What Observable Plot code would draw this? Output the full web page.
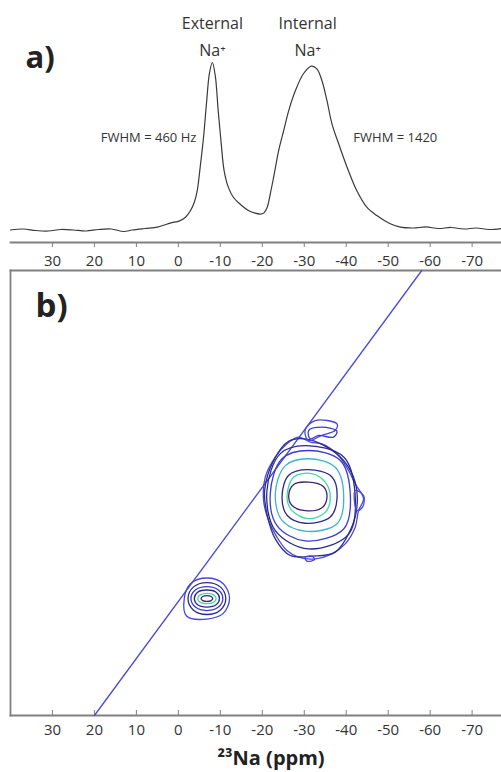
<!DOCTYPE html>
<html><head><meta charset="utf-8">
<script src="https://cdn.jsdelivr.net/npm/d3@7"></script>
<script src="https://cdn.jsdelivr.net/npm/@observablehq/plot@0.6"></script>
<style>
body{margin:0;background:#fff;}
#chart svg{display:block;}
#chart svg.lower{margin-top:-4px;position:relative;}
</style></head><body><div id="chart"></div>
<script>
// ---------- data ----------
const xTicks = [30, 20, 10, 0, -10, -20, -30, -40, -50, -60, -70];
const xLabel = "²³Na (ppm)";

// 1D 23Na spectrum (chemical shift ppm, relative intensity)
const spectrumPpm = [40, 37, 34, 31, 28, 25, 22, 19, 16, 13, 11, 8, 5, 3, 1, 0, -1.7, -2.9, -3.8, -4.5, -5.2, -6.0, -6.7, -7.4, -8.1, -8.8, -9.5, -10.2, -10.9, -11.9, -13.1, -14.8, -16.7, -18.3, -19.5, -20.4, -21.2, -21.9, -22.7, -23.9, -25.1, -26.3, -27.9, -29.8, -31.7, -33.0, -34.2, -35.4, -36.6, -38.2, -40.2, -42.5, -44.9, -47.3, -50.5, -52.9, -56, -59, -62, -65, -68, -71, -74, -77];
const spectrumInt = [0.3, 0.9, 0, -0.3, 0.6, 0.3, -0.3, 0.6, 0.9, -0.6, 0.3, 1.2, 2, 3.6, 5, 5.4, 7.9, 11.9, 16.8, 23.8, 37.7, 55.5, 75.6, 93.5, 100, 92, 71, 52, 35.7, 25.8, 19.8, 15.5, 11.9, 10.3, 9.8, 10.5, 14, 21.8, 31.7, 47.6, 59.5, 71.4, 83.3, 93.3, 97.8, 96.2, 89.3, 77.4, 63.5, 51.6, 37.7, 23.8, 13.9, 8.9, 4.0, 2.0, 1.5, 2.1, 1.2, 1.8, 0.9, 1.5, 0.6, 1.2];

// peak annotations
const peakNames = ["External", "Internal"];
const peakIons = ["Na⁺", "Na⁺"];
const peakLabelPpm = [-8.1, -30.8];
const nameLevel = 123;
const ionLevel = 107;
const widthLabels = ["FWHM = 460 Hz", "FWHM = 1420"];
const widthLabelPpm = [7.1, -51.7];
const widthLevel = 55;

// 2D map: diagonal (F2 = F1)
const diagonal = [[20, 20], [-58, -58]];

// contour rings [F2 ppm, F1 ppm], internal Na+ peak (outer -> inner)
const bigRing8 = [[-20.71, -21.77], [-23.09, -25.28], [-25.87, -27.62], [-28.65, -28.79], [-31.43, -27.91], [-34.2, -27.62], [-37.78, -25.86], [-40.55, -22.94], [-42.14, -20.61], [-44.13, -17.98], [-42.94, -15.93], [-42.14, -13.01], [-39.76, -10.09], [-36.59, -8.33], [-32.62, -7.46], [-28.65, -7.75], [-25.87, -8.92], [-23.49, -11.26], [-21.5, -14.18], [-20.31, -17.68]];
const bigRing7 = [[-26.27, -28.08], [-30.24, -28.49], [-35.4, -27.03], [-39.36, -24.7], [-42.14, -20.9], [-42.54, -16.51], [-40.95, -12.42], [-37.38, -8.63], [-31.82, -7.93], [-26.66, -8.04], [-23.09, -10.97], [-21.11, -15.35], [-20.55, -19.44], [-22.7, -24.7]];
const bigRing6 = [[-21.1, -19.4], [-24.3, -25.9], [-30.2, -27.3], [-39.4, -25.3], [-42.1, -18.9], [-40.6, -11.8], [-31.0, -9.2], [-23.1, -12.4]];
const bigRing5 = [[-21.9, -18.9], [-24.7, -25.0], [-31.0, -26.45], [-38.6, -24.7], [-41.0, -18.3], [-39.4, -12.7], [-30.2, -10.6], [-23.5, -13.3]];
const bigRing4 = [[-23.1, -18.9], [-25.5, -23.8], [-31.0, -25.0], [-37.4, -23.5], [-39.4, -18.3], [-37.8, -13.6], [-30.2, -12.3], [-24.7, -14.2]];
const bigRing3 = [[-24.7, -18.3], [-26.3, -22.1], [-31.0, -23.1], [-36.6, -21.8], [-37.8, -18.0], [-36.2, -14.8], [-30.2, -13.7], [-25.9, -15.1]];
const bigRing2 = [[-25.9, -18.3], [-27.5, -21.8], [-31.8, -22.4], [-35.0, -20.9], [-36.2, -18.3], [-35.0, -15.6], [-31.0, -14.5], [-27.1, -15.9]];
const bigRing1 = [[-26.3, -18.6], [-27.5, -20.5], [-31.0, -20.9], [-34.6, -20.1], [-35.4, -18.15], [-34.2, -16.4], [-30.2, -15.9], [-27.1, -16.8]];
const noiseLump1 = [[-30.2, -30.0], [-32.6, -31.7], [-37.8, -31.1], [-37.4, -30.0], [-34.2, -29.1], [-31.0, -28.2]];
const noiseLump2 = [[-31.03, -29.95], [-34.2, -30.54], [-37.78, -29.84], [-36.98, -28.79], [-33.41, -29.08], [-31.43, -28.49]];
const noiseLump3 = [[-42.14, -19.44], [-44.13, -18.56], [-43.89, -16.51], [-42.54, -15.93]];
const noiseLump4 = [[-30.24, -7.75], [-31.82, -7.93], [-32.46, -7.34], [-30.63, -7.05]];

// contour rings, external Na+ peak (outer -> inner)
const smallRing6 = [[-1.4, -0.5], [-2.9, -3.1], [-6.8, -4.1], [-10.7, -3.1], [-12.2, -0.5], [-10.7, 2.1], [-6.8, 3.1], [-2.0, 2.6]];
const smallRing5 = [[-2.3, -0.5], [-3.55, -2.5], [-6.8, -3.3], [-10.05, -2.5], [-11.3, -0.5], [-10.05, 1.5], [-6.8, 2.3], [-3.55, 1.5]];
const smallRing4 = [[-3.0, -0.5], [-4.05, -2.0], [-6.8, -2.6], [-9.55, -2.0], [-10.6, -0.5], [-9.55, 1.0], [-6.8, 1.6], [-4.05, 1.0]];
const smallRing3 = [[-3.8, -0.5], [-4.6, -1.6], [-6.8, -2.0], [-9.0, -1.6], [-9.8, -0.5], [-9.0, 0.6], [-6.8, 1.0], [-4.6, 0.6]];
const smallRing2 = [[-4.6, -0.5], [-5.2, -1.15], [-6.8, -1.4], [-8.4, -1.15], [-9.0, -0.5], [-8.4, 0.15], [-6.8, 0.4], [-5.2, 0.15]];
const smallRing1 = [[-5.4, -0.5], [-5.8, -0.86], [-6.8, -1.0], [-7.8, -0.86], [-8.2, -0.5], [-7.8, -0.14], [-6.8, 0.0], [-5.8, -0.14]];

const rings = [bigRing8, bigRing7, bigRing6, bigRing5, bigRing4, bigRing3, bigRing2, bigRing1,
               noiseLump1, noiseLump2, noiseLump3, noiseLump4,
               smallRing6, smallRing5, smallRing4, smallRing3, smallRing2, smallRing1];
const ringColors = ["#4646de", "#2d2b94", "#2a2a88", "#3b3bd4", "#41b2cc", "#2b2b8c", "#3fd8a2", "#3d2478",
                    "#4646de", "#3b3bd4", "#4646de", "#4646de",
                    "#4646de", "#2b2b8c", "#3b3bd4", "#2b2b8c", "#3fd8a2", "#3d2478"];

// ---------- build ----------
const font = "'Open Sans', sans-serif";
const fmt = d => String(d);

const spectrum = spectrumPpm.map((p, i) => ({ppm: p, intensity: spectrumInt[i]}));
const peaks = peakNames.map((n, i) => ({name: n, ion: peakIons[i], ppm: peakLabelPpm[i]}));
const widths = widthLabels.map((t, i) => ({text: t, ppm: widthLabelPpm[i]}));
const ringTable = rings.flatMap((pts, i) => pts.map(([x, y]) => ({x, y, ring: i, color: ringColors[i]})));

const topPlot = Plot.plot({
  width: 501, height: 272,
  marginLeft: 10, marginRight: 0, marginTop: 0, marginBottom: 30,
  style: {fontFamily: font, background: "#fff"},
  x: {domain: [40, -77]},
  y: {domain: [0, 100], range: [230, 62], axis: null},
  marks: [
    Plot.frame({anchor: "bottom", stroke: "#808080", strokeWidth: 1.8}),
    Plot.axisX({ticks: xTicks, tickFormat: fmt, tickSize: 5, tickPadding: 8, fontSize: 15, stroke: "#808080", fill: "#333", label: null}),
    Plot.line(spectrum, {x: "ppm", y: "intensity", stroke: "#3a3a3a", strokeWidth: 1.2, curve: "catmull-rom"}),
    Plot.text(peaks, {x: "ppm", y: () => nameLevel, text: "name", fontSize: 16, fill: "#333"}),
    Plot.text(peaks, {x: "ppm", y: () => ionLevel, text: "ion", fontSize: 16, fill: "#333"}),
    Plot.text(widths, {x: "ppm", y: () => widthLevel, text: "text", fontSize: 13, fill: "#333"}),
    Plot.text(["a)"], {frameAnchor: "top-left", textAnchor: "start", lineAnchor: "middle", dx: 15, dy: 58, fontSize: 31, fontWeight: "bold", fill: "#222"})
  ]
});

const bottomPlot = Plot.plot({
  width: 501, height: 504,
  marginLeft: 10, marginRight: 0, marginTop: 2, marginBottom: 57,
  style: {fontFamily: font, background: "transparent"},
  x: {domain: [40, -77]},
  y: {domain: [20, -58], axis: null},
  color: {type: "identity"},
  marks: [
    Plot.frame({anchor: "left", stroke: "#808080", strokeWidth: 1.8}),
    Plot.frame({anchor: "top", stroke: "#808080", strokeWidth: 1.8}),
    Plot.frame({anchor: "bottom", stroke: "#808080", strokeWidth: 1.8}),
    Plot.ruleX(xTicks, {insetTop: 440, stroke: "#808080", strokeWidth: 1}),
    Plot.axisX({ticks: xTicks, tickFormat: fmt, tickSize: 0, tickPadding: 9, fontSize: 15, fill: "#333", label: null}),
    Plot.text([xLabel], {frameAnchor: "bottom", lineAnchor: "middle", dx: 15, dy: 43, fontSize: 20, fontWeight: "bold", fill: "#222"}),
    Plot.line(diagonal, {x: d => d[0], y: d => d[1], stroke: "#4a4ad8", strokeWidth: 1.3}),
    Plot.line(ringTable, {x: "x", y: "y", z: "ring", stroke: "color", curve: "catmull-rom-closed", strokeWidth: 1.3}),
    Plot.text(["b)"], {frameAnchor: "top-left", textAnchor: "start", lineAnchor: "middle", dx: 25, dy: 36, fontSize: 33, fontWeight: "bold", fill: "#222"})
  ]
});
bottomPlot.classList.add("lower");

const el = document.getElementById("chart");
el.appendChild(topPlot);
el.appendChild(bottomPlot);
</script>
</body></html>
